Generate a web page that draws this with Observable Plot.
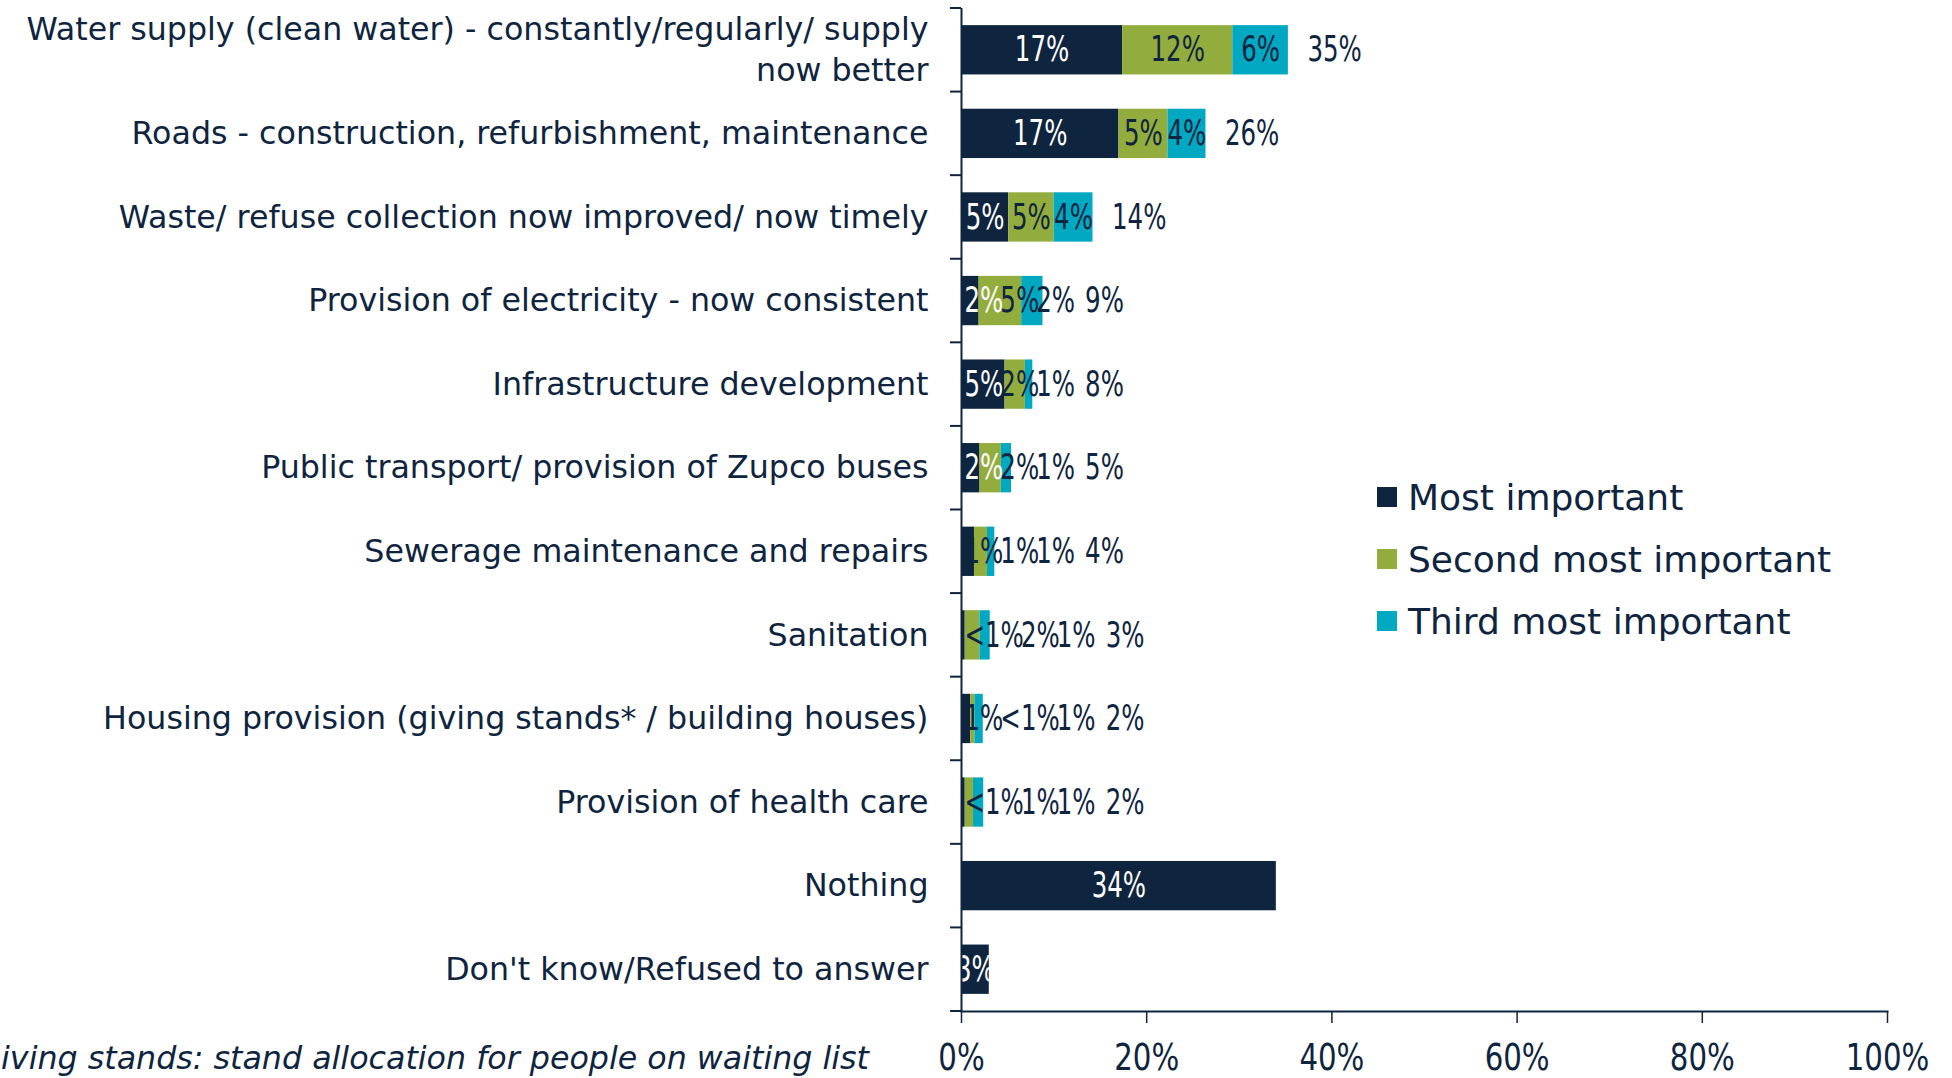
<!DOCTYPE html>
<html>
<head>
<meta charset="utf-8">
<script src="https://cdn.jsdelivr.net/npm/d3@7"></script>
<script src="https://cdn.jsdelivr.net/npm/@observablehq/plot@0.6"></script>
<style>
  html, body { margin: 0; padding: 0; background: #fff; }
  #chart { position: relative; width: 1952px; height: 1078px; overflow: hidden;
           font-family: "DejaVu Sans", sans-serif; color: #0f243e; }
  #chart svg { position: absolute; left: 0; top: 0; }
  .legend { position: absolute; left: 1377px; top: 466px; }
  .legend .item { display: flex; align-items: center; height: 62px; font-size: 36px; white-space: nowrap; }
  .legend .sw { width: 20px; height: 20px; margin-right: 11px; flex: none; }
  .note { position: absolute; left: 869px; top: 1043px; transform: translateX(-100%);
          white-space: nowrap; font-style: italic; font-size: 31.7px; line-height: 1; }
</style>
</head>
<body>
<div id="chart"></div>
<script>
// Improvements noticed, ranked by importance (share of respondents, %)
const categories = [
  "Water supply (clean water) - constantly/regularly/ supply\nnow better",
  "Roads - construction, refurbishment, maintenance",
  "Waste/ refuse collection now improved/ now timely",
  "Provision of electricity - now consistent",
  "Infrastructure development",
  "Public transport/ provision of Zupco buses",
  "Sewerage maintenance and repairs",
  "Sanitation",
  "Housing provision (giving stands* / building houses)",
  "Provision of health care",
  "Nothing",
  "Don't know/Refused to answer"
];
const seriesNames = ["Most important", "Second most important", "Third most important"];
const mostImportant   = [17.4, 17.0, 5.1, 1.9, 4.7, 2.0, 1.4, 0.4, 1.0, 0.4, 34.0, 3.0];
const secondImportant = [11.9, 5.3, 4.9, 4.6, 2.2, 2.3, 1.4, 1.6, 0.45, 0.9, 0, 0];
const thirdImportant  = [6.0, 4.1, 4.2, 2.3, 0.8, 1.1, 0.8, 1.1, 0.9, 1.1, 0, 0];
const xTicks = [0, 20, 40, 60, 80, 100];
const footnote = "*Giving stands: stand allocation for people on waiting list";

const navy = "#0f243e";
const colors = ["#0f243e", "#92ad3d", "#00a8c2"];

// layout
const W = 1952, H = 1078;
const ml = 961, mr = 65, mt = 8, mb = 67;
const yOpts = {domain: categories, paddingInner: 0.41, paddingOuter: 0.205, round: false};
const xScale = Plot.scale({x: {domain: [0, 100], range: [ml, W - mr]}});
const yScale = Plot.scale({y: {type: "band", range: [mt, H - mb], ...yOpts}});

const valueFont = 35, valueStretch = 0.70;
const tickFont = 37, tickStretch = 0.79;

const seriesValues = [mostImportant, secondImportant, thirdImportant];
const rows = [];
categories.forEach((c, i) => seriesValues.forEach((vals, s) => {
  if (vals[i] > 0) rows.push({category: c, series: seriesNames[s], value: vals[i], s});
}));

const fmt = v => v < 0.5 ? "<1%" : Math.round(v) + "%";

// measure label widths so crowded labels can be packed side by side
const ctx = document.createElement("canvas").getContext("2d");
ctx.font = `${valueFont}px "DejaVu Sans"`;
const textWidth = t => ctx.measureText(t).width * valueStretch;

const labels = [];
categories.forEach((c, i) => {
  const segs = rows.filter(r => r.category === c);
  let acc = 0, prevRight = -Infinity;
  segs.forEach((r, k) => {
    const t = fmt(r.value);
    const w = textWidth(t);
    const center = xScale.apply(acc + r.value / 2);
    let left = center - w / 2;
    if (segs.length > 1 && k === 0) left = Math.max(left, ml + 3);
    left = Math.max(left, prevRight - 3);
    prevRight = left + w;
    labels.push({category: c, text: t, x: xScale.invert(left),
                 light: r.s === 0 && r.value >= 1.5});
    acc += r.value;
  });
  if (segs.length > 1) {
    const t = Math.round(acc) + "%";
    const left = Math.max(xScale.apply(acc) + 19, prevRight + 10);
    labels.push({category: c, text: t, x: xScale.invert(left), light: false});
  }
});

// short ticks on the category boundaries, left of the axis
function bandEdgeTicks() {
  const g = d3.create("svg:g").attr("stroke", navy).attr("stroke-width", 2);
  const pad = (yScale.step - yScale.bandwidth) / 2;
  const edges = categories.map(c => yScale.apply(c) - pad);
  edges.push(yScale.apply(categories[categories.length - 1]) + yScale.bandwidth + pad);
  for (const e of edges) {
    g.append("line").attr("x1", ml - 11).attr("x2", ml).attr("y1", e).attr("y2", e);
  }
  return g.node();
}

const svg = Plot.plot({
  width: W, height: H,
  marginLeft: ml, marginRight: mr, marginTop: mt, marginBottom: mb,
  style: {fontFamily: '"DejaVu Sans", sans-serif', color: navy, background: "transparent", overflow: "visible"},
  x: {domain: [0, 100], label: null},
  y: {...yOpts, label: null},
  color: {domain: seriesNames, range: colors},
  marks: [
    Plot.barX(rows, Plot.stackX({x: "value", y: "category", fill: "series"})),
    Plot.text(labels.filter(d => d.light), {x: "x", y: "category", text: "text", fill: "white",
      textAnchor: "start", lineAnchor: "middle", fontSize: valueFont}),
    Plot.text(labels.filter(d => !d.light), {x: "x", y: "category", text: "text", fill: navy,
      textAnchor: "start", lineAnchor: "middle", fontSize: valueFont}),
    Plot.ruleX([0], {stroke: navy, strokeWidth: 2}),
    Plot.frame({anchor: "bottom", stroke: navy, strokeWidth: 2}),
    bandEdgeTicks,
    Plot.axisY({tickSize: 0, tickPadding: 33, fontSize: 31.7, lineHeight: 1.3, dy: -3, label: null}),
    Plot.axisX({ticks: xTicks, tickFormat: d => d + "%", tickSize: 12, tickPadding: 20,
      fontSize: tickFont, strokeWidth: 1.5, label: null})
  ]
});

// percentage figures are set in a narrower cut than the category names
svg.querySelectorAll("text").forEach(el => {
  if (!/%$/.test(el.textContent)) return;
  const grp = el.closest("g[aria-label]");
  const isTick = grp && /axis/.test(grp.getAttribute("aria-label") || "");
  const sx = isTick ? tickStretch : valueStretch;
  const t = el.getAttribute("transform");
  if (t) {
    el.setAttribute("transform", `${t} scale(${sx},1)`);
  } else {
    const x = el.getAttribute("x") || 0, y = el.getAttribute("y") || 0;
    el.removeAttribute("x"); el.removeAttribute("y");
    el.setAttribute("transform", `translate(${x},${y}) scale(${sx},1)`);
  }
});

const root = document.getElementById("chart");
root.appendChild(svg);

const legend = document.createElement("div");
legend.className = "legend";
seriesNames.forEach((name, i) => {
  const item = document.createElement("div");
  item.className = "item";
  const sw = document.createElement("span");
  sw.className = "sw";
  sw.style.background = colors[i];
  item.appendChild(sw);
  item.appendChild(document.createTextNode(name));
  legend.appendChild(item);
});
root.appendChild(legend);

const note = document.createElement("div");
note.className = "note";
note.textContent = footnote;
root.appendChild(note);
</script>
</body>
</html>
